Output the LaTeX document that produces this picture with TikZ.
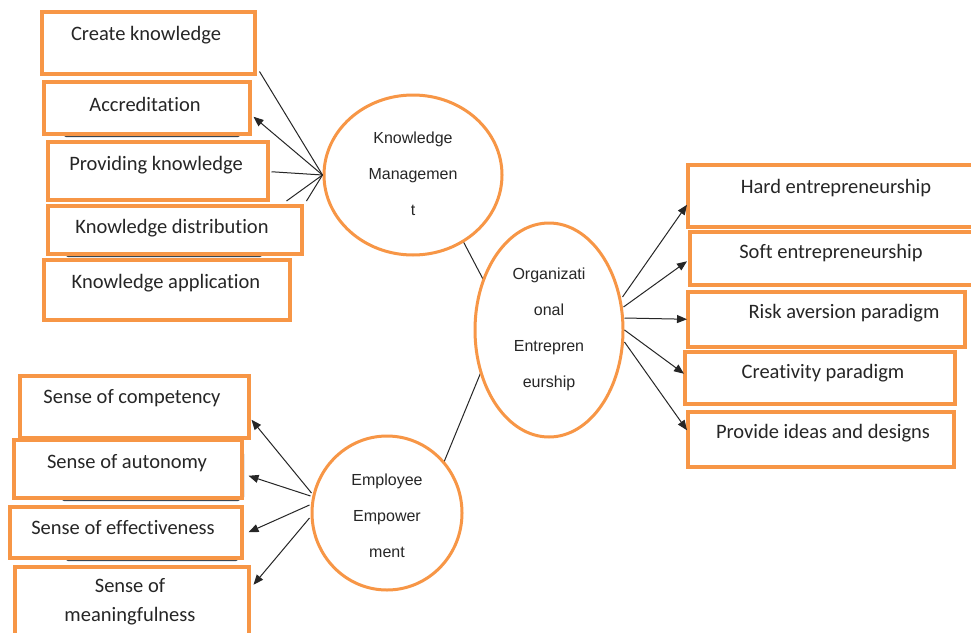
\documentclass[tikz,border=0pt]{standalone}
\usepackage{fontspec}
\setmainfont[Ligatures=NoCommon]{Carlito}
\newfontfamily\arialf{Liberation Sans}
\usetikzlibrary{arrows.meta,calc,shapes.geometric}
\definecolor{org}{HTML}{F79646}
\definecolor{shd}{HTML}{3B4650}
\definecolor{txt}{HTML}{262626}
\begin{document}
\begin{tikzpicture}[x=1pt,y=-1pt,
  obox/.style={draw=org, line width=3.5pt, fill=white, inner sep=0pt, anchor=north west},
  btext/.style={font=\fontsize{20.5}{29}\selectfont, inner sep=0pt, text=txt, align=center},
  ctext/.style={font=\arialf\fontsize{16}{36}\selectfont, inner sep=0pt, text=txt, align=center},
  oell/.style={ellipse, draw=org, line width=3pt, fill=white, inner sep=0pt},
  shadow/.style={fill=shd, rounded corners=2pt},
  ln/.style={draw=black!85, line width=1pt},
  arr/.style={ln, -{Triangle[length=10pt,width=8pt]}}
]
\useasboundingbox (0,0) rectangle (971,632);
\fill[white] (0,0) rectangle (971,632);

% shadows (3D edges behind some boxes)
\fill[shadow] (64,128) rectangle (240,137);
\fill[shadow] (66,248) rectangle (262,257);
\fill[shadow] (62,490) rectangle (240,501);
\fill[shadow] (234,452) rectangle (244,499);
\fill[shadow] (66,552) rectangle (238,561);
\fill[shadow] (234,512) rectangle (243,558);
\fill[shd!70] (700,280) rectangle (895,287);

% Knowledge management group
\node[obox, minimum width=213pt, minimum height=62pt] (b1) at (40,10) {};
\node[obox, minimum width=206pt, minimum height=52pt] (b2) at (42,80) {};
\node[obox, minimum width=220pt, minimum height=58pt] (b3) at (46,140) {};
\node[obox, minimum width=254pt, minimum height=48pt] (b4) at (46,204) {};
\node[obox, minimum width=246pt, minimum height=60pt] (b5) at (42,258) {};
\node[btext] (t1) at (146,35) {Create knowledge};
\node[btext] (t2) at (145,104) {Accreditation};
\node[btext] (t3) at (156,165) {Providing knowledge};
\node[btext] (t4) at (172,228) {Knowledge distribution};
\node[btext] (t5) at (166,283) {Knowledge application};

% Right group
\node[obox, minimum width=300pt, minimum height=62pt] (r1) at (686,163) {};
\node[obox, minimum width=300pt, minimum height=53pt] (r2) at (688,230) {};
\node[obox, minimum width=277pt, minimum height=55pt] (r3) at (686,290) {};
\node[obox, minimum width=270pt, minimum height=52pt] (r4) at (683,350) {};
\node[obox, minimum width=266pt, minimum height=55pt] (r5) at (686,410) {};
\node[btext] (u1) at (836,188) {Hard entrepreneurship};
\node[btext] (u2) at (831,253) {Soft entrepreneurship};
\node[btext] (u3) at (844,313) {Risk aversion paradigm};
\node[btext] (u4) at (823,373) {Creativity paradigm};
\node[btext] (u5) at (823,433) {Provide ideas and designs};

% Employee empowerment group
\node[obox, minimum width=229pt, minimum height=62pt] (s1) at (18,374) {};
\node[obox, minimum width=228pt, minimum height=58pt] (s2) at (12,438) {};
\node[obox, minimum width=232pt, minimum height=51pt] (s3) at (8,505) {};
\node[obox, minimum width=234pt, minimum height=90pt] (s4) at (13,565) {};
\node[btext] (v1) at (132,398) {Sense of competency};
\node[btext] (v2) at (127,463) {Sense of autonomy};
\node[btext] (v3) at (123,528) {Sense of effectiveness};
\node[btext] (v4) at (130,602) {Sense of\\meaningfulness};

% connectors between ellipses
\coordinate (kmo) at (463,241);
\coordinate (oek) at (484,281);
\coordinate (oee) at (481,372);
\coordinate (eeo) at (444,462);
\draw[ln] (kmo) -- (oek);
\draw[ln] (oee) -- (eeo);

% ellipses
\node[oell, minimum width=178pt, minimum height=160pt] (km) at (413,175) {};
\node[ctext] (kmt) at (413,174) {Knowledge\\Managemen\\t};
\node[oell, minimum width=148pt, minimum height=214pt] (oe) at (549,330) {};
\node[ctext] (oet) at (549,329) {Organizati\\onal\\Entrepren\\eurship};
\node[oell, minimum width=150pt, minimum height=154pt] (ee) at (387,513) {};
\node[ctext] (eet) at (387,516) {Employee\\Empower\\ment};

% KM lines
\draw[ln] (km.west) -- ($(b1.south east)+(3,-4)$);
\draw[arr] (km.west) -- ($(b2.east)+(2,9)$);
\draw[ln] (km.west) -- ($(b3.east)+(2,1)$);
\draw[ln] (km.west) -- ($(b4.north east)+(-17,-3)$);
\draw[ln] (km.west) -- ($(b4.north east)+(3,-3)$);

% OE arrows
\draw[arr] ($(oe.east)+(-2,-33)$) -- ($(r1.west)+(1,9)$);
\draw[arr] ($(oe.east)+(-1,-23)$) -- ($(r2.west)+(-1,3)$);
\draw[arr] ($(oe.east)+(0,-12)$) -- ($(r3.west)+(1,0)$);
\draw[arr] ($(oe.east)+(0,0)$) -- ($(r4.west)+(1,-4)$);
\draw[arr] ($(oe.east)+(0,12)$) -- ($(r5.west)+(1,-9)$);

% EE arrows
\draw[arr] ($(ee.west)+(1,-20)$) -- ($(s1.east)+(1,13)$);
\draw[arr] ($(ee.west)+(0,-17)$) -- ($(s2.east)+(5,7)$);
\draw[arr] ($(ee.west)+(-1,-8)$) -- ($(s3.east)+(5,0)$);
\draw[arr] ($(ee.west)+(-1,5)$) -- ($(s4.east)+(3,-27)$);
\end{tikzpicture}
\end{document}
